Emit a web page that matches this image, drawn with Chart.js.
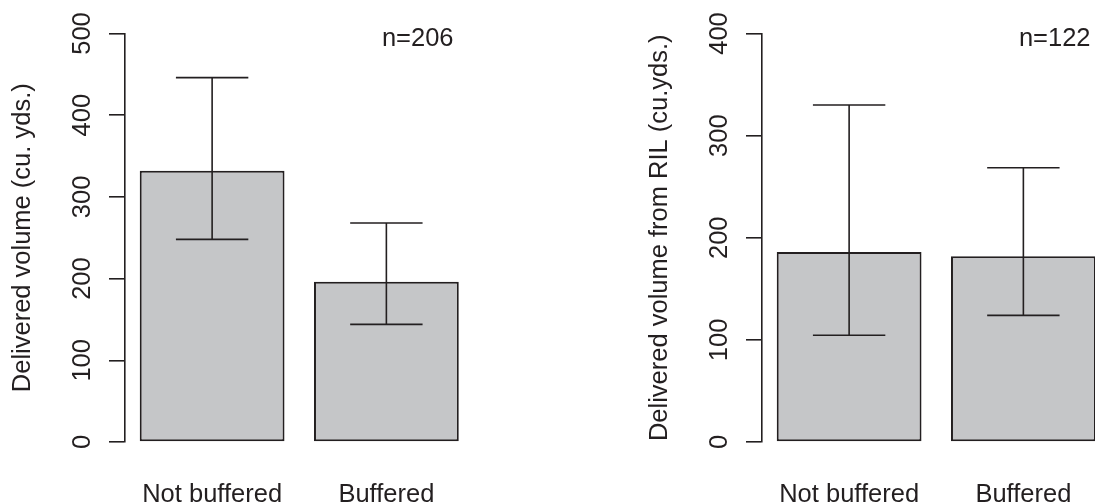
<!DOCTYPE html>
<html>
<head>
<meta charset="utf-8">
<script src="https://cdn.jsdelivr.net/npm/chart.js@4"></script>
<style>
  html, body { margin: 0; padding: 0; background: #fff; overflow: hidden; width: 1095px; height: 504px; }
  canvas { position: absolute; top: 0; }
</style>
</head>
<body>
<canvas id="volChart" width="560" height="504" style="left:0px"></canvas>
<canvas id="rilChart" width="560" height="504" style="left:637px"></canvas>
<script>
const categories = ['Not buffered', 'Buffered'];

// total delivered volume, mean with interval bounds
const volMean = [332, 196];
const volLow = [248, 144];
const volHigh = [446, 268];
const volTicks = [0, 100, 200, 300, 400, 500];

// delivered volume coming from RIL
const rilMean = [186, 182];
const rilLow = [104.5, 124];
const rilHigh = [330, 268.5];
const rilTicks = [0, 100, 200, 300, 400];

const INK = '#231f20';
const FONT = '"Liberation Sans", Arial, Helvetica, sans-serif';

// whiskers, rotated tick labels and sample size note
const extras = {
  id: 'extras',
  afterDatasetsDraw(chart, args, opts) {
    const ctx = chart.ctx;
    const y = chart.scales.y;
    const meta = chart.getDatasetMeta(0);
    ctx.save();
    ctx.strokeStyle = INK;
    ctx.lineWidth = 1.6;
    meta.data.forEach((bar, i) => {
      const cap = bar.width / 4;
      const top = y.getPixelForValue(opts.high[i]);
      const bot = y.getPixelForValue(opts.low[i]);
      ctx.beginPath();
      ctx.moveTo(bar.x, top);
      ctx.lineTo(bar.x, bot);
      ctx.moveTo(bar.x - cap, top);
      ctx.lineTo(bar.x + cap, top);
      ctx.moveTo(bar.x - cap, bot);
      ctx.lineTo(bar.x + cap, bot);
      ctx.stroke();
    });
    ctx.restore();
  },
  afterDraw(chart, args, opts) {
    const ctx = chart.ctx;
    const y = chart.scales.y;
    const area = chart.chartArea;
    ctx.save();
    ctx.fillStyle = INK;
    ctx.font = '25.5px ' + FONT;
    ctx.textAlign = 'center';
    ctx.textBaseline = 'middle';
    opts.ticks.forEach(v => {
      ctx.save();
      ctx.translate(area.left - 42, y.getPixelForValue(v));
      ctx.rotate(-Math.PI / 2);
      ctx.fillText(String(v), 0, 0);
      ctx.restore();
    });
    ctx.textAlign = 'right';
    ctx.textBaseline = 'alphabetic';
    ctx.fillText(opts.note, area.right - 20, area.top + 12.5);
    ctx.restore();
  }
};

function makeChart(id, mean, low, high, ticks, title, note) {
  return new Chart(document.getElementById(id), {
    type: 'bar',
    data: {
      labels: categories,
      datasets: [{
        data: mean,
        backgroundColor: '#c5c6c8',
        borderColor: INK,
        borderWidth: 2,
        borderSkipped: false,
        categoryPercentage: 1,
        barPercentage: 0.831
      }]
    },
    options: {
      responsive: false,
      animation: false,
      events: [],
      layout: { padding: { top: 33.5, right: 86.5, left: 0, bottom: 0 } },
      plugins: {
        legend: { display: false },
        tooltip: { enabled: false },
        extras: { low: low, high: high, ticks: ticks, note: note }
      },
      scales: {
        x: {
          grid: { display: false, drawTicks: false },
          border: { display: false },
          ticks: { color: INK, font: { family: FONT, size: 25.5 }, padding: 38 },
          afterFit(scale) { scale.height = 62; }
        },
        y: {
          min: 0,
          max: ticks[ticks.length - 1],
          afterBuildTicks(scale) { scale.ticks = ticks.map(v => ({ value: v })); },
          ticks: { display: false },
          grid: { drawOnChartArea: false, drawTicks: true, tickLength: 16, color: INK, lineWidth: 1.6 },
          border: { display: true, color: INK, width: 1.6 },
          title: {
            display: true,
            text: title,
            color: INK,
            font: { family: FONT, size: 25.5 },
            padding: { top: 8, bottom: 0 }
          },
          afterFit(scale) { scale.width = 125; }
        }
      }
    },
    plugins: [extras]
  });
}

makeChart('volChart', volMean, volLow, volHigh, volTicks, 'Delivered volume (cu. yds.)', 'n=206');
makeChart('rilChart', rilMean, rilLow, rilHigh, rilTicks, 'Delivered volume from RIL (cu.yds.)', 'n=122');
</script>
</body>
</html>
